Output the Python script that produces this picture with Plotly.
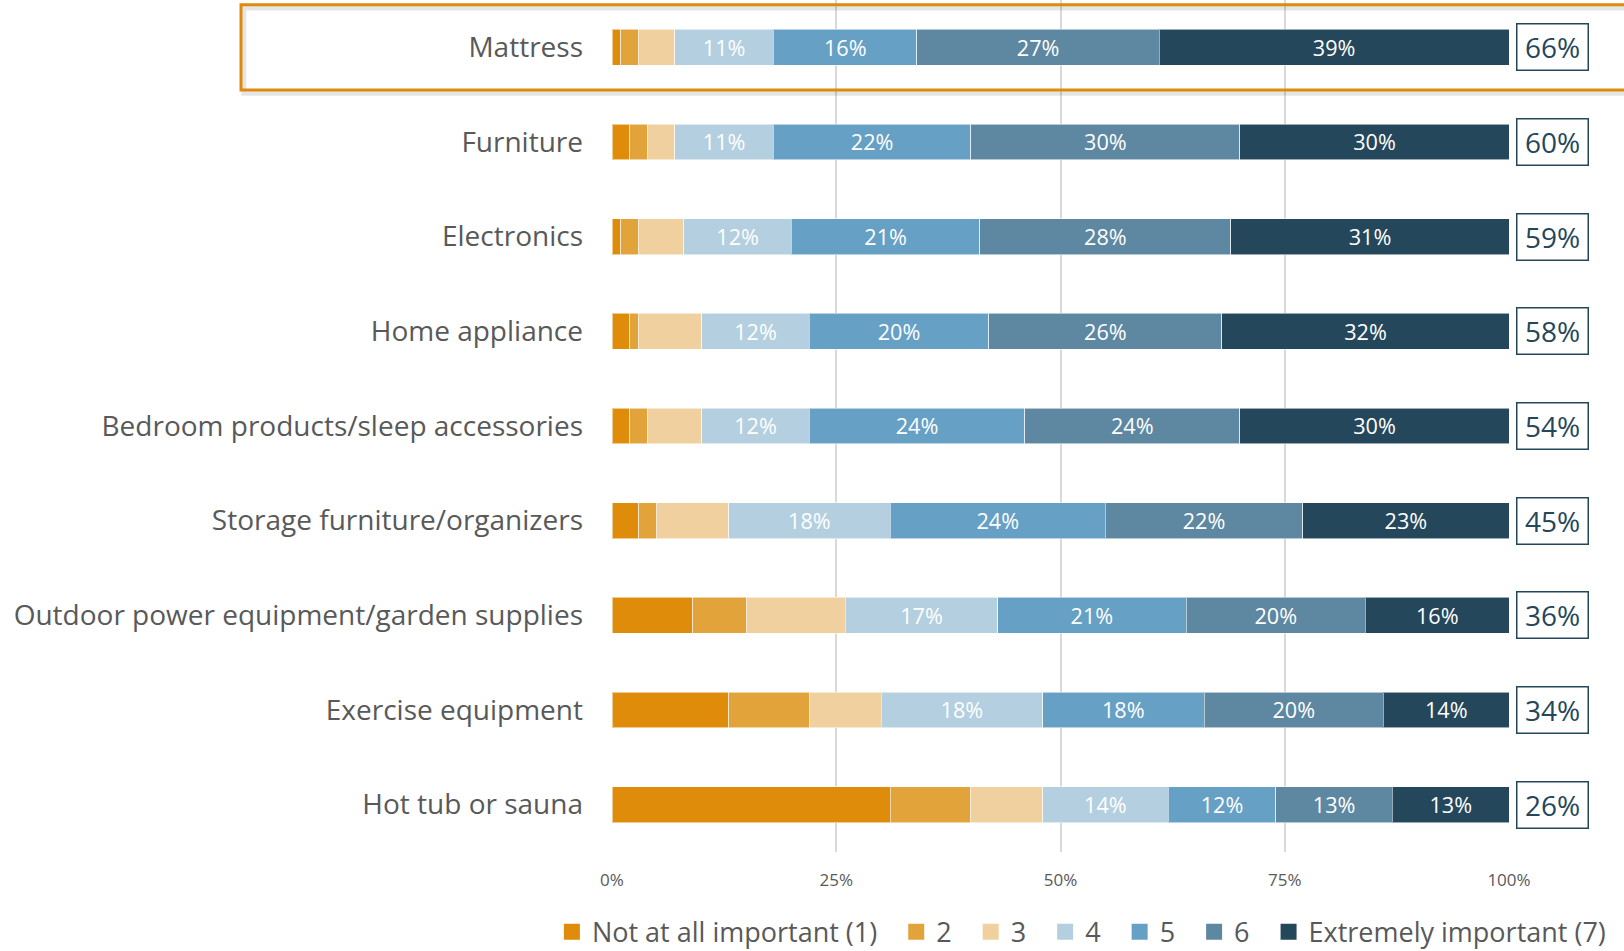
import plotly.graph_objects as go

# Product categories, top to bottom
categories = [
    "Mattress",
    "Furniture",
    "Electronics",
    "Home appliance",
    "Bedroom products/sleep accessories",
    "Storage furniture/organizers",
    "Outdoor power equipment/garden supplies",
    "Exercise equipment",
    "Hot tub or sauna",
]

# Importance rating levels (1 = not at all important, 7 = extremely important)
levels = ["Not at all important (1)", "2", "3", "4", "5", "6", "Extremely important (7)"]

# Share of respondents per rating, in percent (one list per rating level)
r1 = [1, 2, 1, 2, 2, 3, 9, 13, 31]
r2 = [2, 2, 2, 1, 2, 2, 6, 9, 9]
r3 = [4, 3, 5, 7, 6, 8, 11, 8, 8]
r4 = [11, 11, 12, 12, 12, 18, 17, 18, 14]
r5 = [16, 22, 21, 20, 24, 24, 21, 18, 12]
r6 = [27, 30, 28, 26, 24, 22, 20, 20, 13]
r7 = [39, 30, 31, 32, 30, 23, 16, 14, 13]

x_ticks = [0, 25, 50, 75, 100]
x_tick_labels = ["0%", "25%", "50%", "75%", "100%"]

series = [r1, r2, r3, r4, r5, r6, r7]
colors = ["#DE8C0A", "#E3A33B", "#F0D09E", "#B3CFE0", "#66A0C5", "#5E87A1", "#25475C"]
labelled = [False, False, False, True, True, True, True]

FONT = "Open Sans, DejaVu Sans, sans-serif"
TEXT_GREY = "#595959"
NAVY = "#25475C"
NBSP = "\u00a0"

fig = go.Figure()
for i, (name, vals, col, lab) in enumerate(zip(levels, series, colors, labelled)):
    fig.add_trace(go.Bar(
        y=categories,
        x=vals,
        name=name,
        legendgroup=f"g{i}",
        showlegend=False,
        orientation="h",
        marker=dict(color=col, line=dict(color="rgba(255,255,255,0.55)", width=1)),
        text=[f"{v}%" for v in vals] if lab else None,
        textposition="inside" if lab else "none",
        insidetextanchor="middle",
        textangle=0,
        textfont=dict(family=FONT, size=26, color="white"),
        hovertemplate="%{y}: %{x}%<extra>" + name + "</extra>",
    ))
    # legend entry with a larger square swatch, toggling the bar series above;
    # a little trailing space widens the gap to the next entry
    last = i == len(levels) - 1
    fig.add_trace(go.Scatter(
        x=[None], y=[None],
        mode="markers",
        marker=dict(symbol="square", size=16, color=col),
        name=name if last else name + NBSP * 2,
        legendgroup=f"g{i}",
        showlegend=True,
        hoverinfo="skip",
    ))

# Top-2-box totals (ratings 6 + 7) in framed labels to the right of each bar
for cat, a, b in zip(categories, r6, r7):
    fig.add_annotation(
        x=1.048, y=cat, xref="paper", yref="y",
        xanchor="center", yanchor="middle",
        text=f"{a + b}%",
        showarrow=False,
        font=dict(family=FONT, size=28, color=NAVY),
        bgcolor="white",
        bordercolor=NAVY,
        borderwidth=1.5,
        borderpad=0,
        width=70,
        height=45,
        align="center",
        valign="middle",
    )

# Soft shadow and orange frame highlighting the top row
fig.add_shape(type="rect", xref="paper", yref="y",
              x0=-0.4105, x1=1.14, y0=-0.415, y1=0.485,
              line=dict(color="rgba(0,0,0,0.10)", width=5), layer="above")
fig.add_shape(type="rect", xref="paper", yref="y",
              x0=-0.4136, x1=1.14, y0=-0.45, y1=0.45,
              line=dict(color="#E08A0B", width=3), layer="above")

fig.update_layout(
    width=1624,
    height=951,
    barmode="stack",
    bargap=0.62,
    plot_bgcolor="white",
    paper_bgcolor="white",
    margin=dict(l=612, r=115, t=0, b=99, autoexpand=False),
    font=dict(family=FONT, color=TEXT_GREY),
    showlegend=True,
    legend=dict(
        orientation="h",
        x=-0.067, xanchor="left",
        y=-0.094, yanchor="middle",
        font=dict(family=FONT, size=27, color=TEXT_GREY),
        traceorder="normal",
        itemsizing="trace",
        bgcolor="rgba(0,0,0,0)",
    ),
    xaxis=dict(
        range=[0, 100],
        tickvals=x_ticks,
        ticktext=x_tick_labels,
        showgrid=True,
        gridcolor="#D9D9D9",
        gridwidth=1.5,
        zeroline=False,
        showline=False,
        ticks="",
        ticklabelstandoff=16,
        tickfont=dict(family=FONT, size=17, color=TEXT_GREY),
        fixedrange=True,
    ),
    yaxis=dict(
        autorange="reversed",
        showgrid=False,
        zeroline=False,
        showline=False,
        ticks="",
        ticklabelstandoff=28,
        tickfont=dict(family=FONT, size=28, color=TEXT_GREY),
        fixedrange=True,
    ),
)

fig.write_html("out.html")
